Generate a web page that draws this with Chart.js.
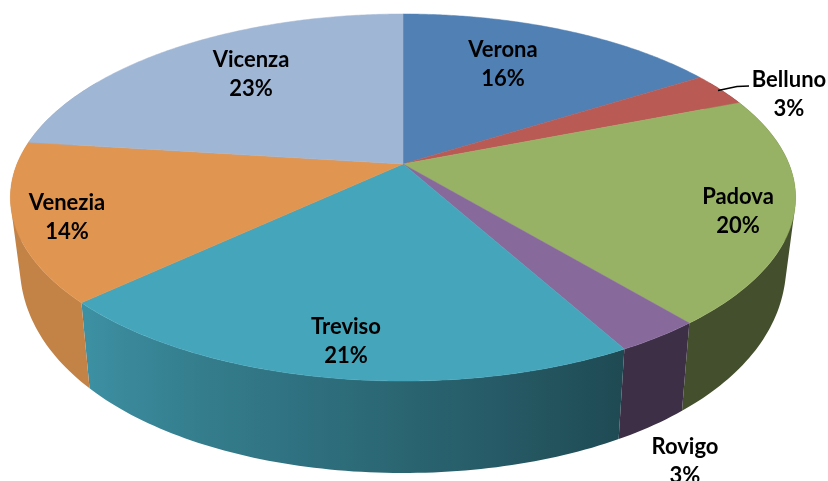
<!DOCTYPE html>
<html>
<head>
<meta charset="utf-8">
<script src="https://cdn.jsdelivr.net/npm/chart.js@4/dist/chart.umd.js"></script>
<style>
  html, body { margin: 0; padding: 0; background: #fff; }
  canvas { display: block; }
</style>
</head>
<body>
<canvas id="pie3d" width="828" height="481"></canvas>
<script>
const categories = ['Verona', 'Belluno', 'Padova', 'Rovigo', 'Treviso', 'Venezia', 'Vicenza'];
const shares = [16, 3, 20, 3, 21, 14, 23];
const sliceColors = ['#5181b4', '#b95a54', '#98b265', '#876a9b', '#45a5ba', '#e09550', '#a0b6d5'];

// where each label sits in the picture (Excel placed them by hand, no rule to follow)
const labelCenters = [[503, 50], [789, 80], [738, 197], [685, 447], [346, 327], [67, 203], [251, 60]];

// perspective of the tilted disc, fitted on the reference
const apex = { x: 403, y: 164 };
const topRim = { a: 386, b: 177.4, k: 0.1826 };
const bottomRim = { a: 377, kx: 0.18, y: 223, b: 225, ky: 0.1 };

function topPoint(t) {
    const u = Math.sin(t), v = -Math.cos(t), d = 1 - topRim.k * v;
    return [apex.x + topRim.a * u / d, apex.y + topRim.b * v / d];
}

function bottomPoint(t) {
    const u = Math.sin(t), v = -Math.cos(t);
    return [apex.x + bottomRim.a * u / (1 - bottomRim.kx * v), bottomRim.y + bottomRim.b * v / (1 - bottomRim.ky * v)];
}

// side wall gets darker going from the left towards the right
function wallShade(deg) {
    if (deg >= 226) return 0.87;
    if (deg <= 151) return 0.45;
    return 0.45 + (deg - 151) / 75 * 0.42;
}

function darken(hex, f) {
    const n = parseInt(hex.slice(1), 16);
    return 'rgb(' + Math.round((n >> 16) * f) + ',' + Math.round(((n >> 8) & 255) * f) + ',' + Math.round((n & 255) * f) + ')';
}

function wallX(t) {
    return (topPoint(t)[0] + bottomPoint(t)[0]) / 2;
}

function drawWall(ctx, arc) {
    const step = Math.PI / 180;
    const from = Math.max(arc.from, 60 * step);
    const to = Math.min(arc.to, 300 * step);
    if (to <= from) return;

    // a horizontal gradient carries the shading
    const x0 = wallX(from), x1 = wallX(to);
    const grad = ctx.createLinearGradient(x0, 0, x1, 0);
    for (let t = from; t <= to; t += step * 3) {
        const stop = Math.min(1, Math.max(0, (wallX(t) - x0) / (x1 - x0)));
        grad.addColorStop(stop, darken(sliceColors[arc.i], wallShade(t / step)));
    }
    grad.addColorStop(1, darken(sliceColors[arc.i], wallShade(to / step)));

    // all quads in one path with the same winding, so no seams and the
    // fold at the sides of the disc does not cancel out
    ctx.beginPath();
    for (let t = from; t < to - 1e-6; t += step) {
        const next = Math.min(t + step, to);
        const q = [topPoint(t), topPoint(next), bottomPoint(next), bottomPoint(t)];
        let area = 0;
        for (let j = 0; j < 4; j++) {
            const m = q[j], n = q[(j + 1) % 4];
            area += m[0] * n[1] - n[0] * m[1];
        }
        if (area < 0) q.reverse();
        ctx.moveTo(q[0][0], q[0][1]);
        ctx.lineTo(q[1][0], q[1][1]);
        ctx.lineTo(q[2][0], q[2][1]);
        ctx.lineTo(q[3][0], q[3][1]);
        ctx.closePath();
    }
    ctx.fillStyle = grad;
    ctx.fill();
}

const pie3dPlugin = {
    id: 'pie3d',
    // the flat arcs are replaced, their angles still come from the chart
    beforeDatasetDraw(chart, args) {
        const ctx = chart.ctx;
        const step = Math.PI / 180;
        const arcs = args.meta.data.map(function(arc, i) {
            const p = arc.getProps(['startAngle', 'endAngle'], true);
            return { i: i, from: p.startAngle + Math.PI / 2, to: p.endAngle + Math.PI / 2 };
        });

        // walls first
        arcs.forEach(function(arc) {
            drawWall(ctx, arc);
        });

        // then the top face
        arcs.forEach(function(arc) {
            ctx.beginPath();
            ctx.moveTo(apex.x, apex.y);
            for (let t = arc.from; t < arc.to; t += step / 2) {
                const p = topPoint(t);
                ctx.lineTo(p[0], p[1]);
            }
            const end = topPoint(arc.to);
            ctx.lineTo(end[0], end[1]);
            ctx.closePath();
            ctx.fillStyle = sliceColors[arc.i];
            ctx.strokeStyle = sliceColors[arc.i];
            ctx.lineWidth = 0.5;
            ctx.fill();
            ctx.stroke();
        });
        return false;
    },
    afterDraw(chart) {
        const ctx = chart.ctx;
        const total = shares.reduce(function(s, v) { return s + v; }, 0);

        // leader line of Belluno
        ctx.beginPath();
        ctx.moveTo(718, 90.5);
        ctx.lineTo(737, 86.5);
        ctx.lineTo(749, 86);
        ctx.strokeStyle = '#000';
        ctx.lineWidth = 1.5;
        ctx.stroke();

        ctx.fillStyle = '#000';
        ctx.textAlign = 'center';
        ctx.textBaseline = 'middle';
        ctx.font = 'bold 22px Lato';
        categories.forEach(function(name, i) {
            const pos = labelCenters[i];
            ctx.fillText(name, pos[0], pos[1]);
            ctx.fillText(Math.round(shares[i] / total * 100) + '%', pos[0], pos[1] + 29);
        });
    }
};

new Chart(document.getElementById('pie3d'), {
    type: 'pie',
    data: {
        labels: categories,
        datasets: [{ data: shares, backgroundColor: sliceColors, borderWidth: 0 }]
    },
    options: {
        responsive: false,
        animation: false,
        plugins: {
            legend: { display: false },
            tooltip: { enabled: false },
            title: { display: false }
        }
    },
    plugins: [pie3dPlugin]
});
</script>
</body>
</html>
